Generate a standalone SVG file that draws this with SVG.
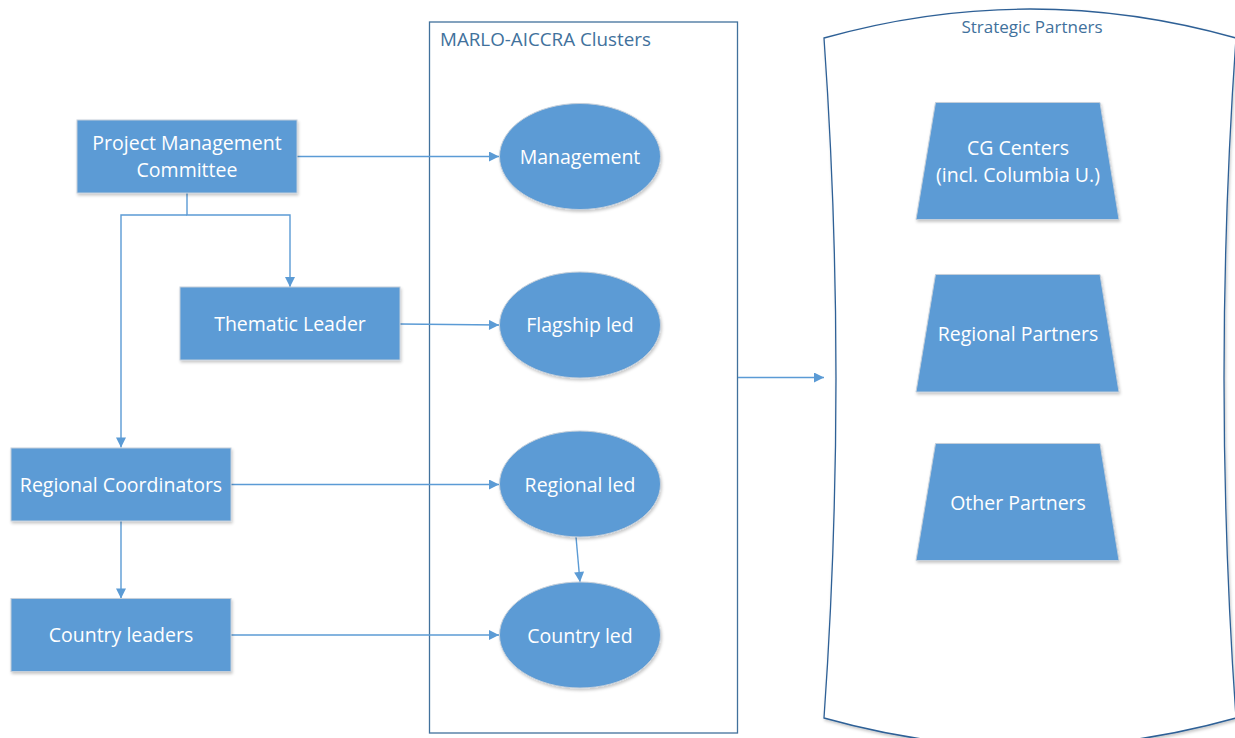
<svg xmlns="http://www.w3.org/2000/svg" width="1235" height="738" viewBox="0 0 1235 738">
<defs>
<style>
.node{fill:#5B9BD5;stroke:#C3CEDA;stroke-width:1;filter:url(#sh)}
.lbl{font-family:"Open Sans","Liberation Sans",sans-serif;font-size:19.5px;fill:#FFFFFF;text-anchor:middle}
.title{font-family:"Open Sans","Liberation Sans",sans-serif;font-size:17px;fill:#41719C;text-anchor:middle}
.con{fill:none;stroke:#5B9BD5;stroke-width:1.4}
</style>
<marker id="ah" viewBox="0 0 10 10" refX="10" refY="5" markerWidth="11" markerHeight="10" markerUnits="userSpaceOnUse" orient="auto">
<path d="M0,0 L10,5 L0,10 Z" fill="#5B9BD5"/>
</marker>
<filter id="sh" x="-10%" y="-10%" width="130%" height="130%">
<feDropShadow dx="1" dy="2" stdDeviation="1.6" flood-color="#000" flood-opacity="0.22"/>
</filter>
</defs>
<rect width="1235" height="738" fill="#FFFFFF"/>

<g id="strategic-partners">
<path d="M824,38 Q1030,-20 1236,38 Q1212,378 1236,718 Q1030,776 824,718 Q848,378 824,38 Z" fill="#FFFFFF" stroke="#2E6096" stroke-width="1.3" filter="url(#sh)"/>
<text class="title" x="1032" y="33">Strategic Partners</text>
</g>

<g id="clusters">
<rect x="429.5" y="22" width="308" height="711" fill="#FFFFFF" stroke="#41719C" stroke-width="1.3"/>
<text class="title" x="440" y="46" style="text-anchor:start;font-size:18.8px">MARLO-AICCRA Clusters</text>
</g>

<g id="connectors">
<line class="con" x1="297" y1="156.5" x2="499" y2="156.5" marker-end="url(#ah)"/>
<line class="con" x1="400" y1="324" x2="499" y2="325" marker-end="url(#ah)"/>
<line class="con" x1="231" y1="484.5" x2="499" y2="484.5" marker-end="url(#ah)"/>
<line class="con" x1="231" y1="635" x2="499" y2="635" marker-end="url(#ah)"/>
<polyline class="con" points="187,193 187,215 290,215 290,287" marker-end="url(#ah)"/>
<polyline class="con" points="187,215 121,215 121,447.5" marker-end="url(#ah)"/>
<line class="con" x1="121" y1="521" x2="121" y2="598.5" marker-end="url(#ah)"/>
<line class="con" x1="576" y1="537" x2="580" y2="582" marker-end="url(#ah)"/>
<line class="con" x1="738" y1="377.5" x2="824" y2="377.5" marker-end="url(#ah)"/>
</g>

<g id="pmc">
<rect class="node" x="77" y="120" width="220" height="73"/>
<text class="lbl" x="187" y="150">Project Management</text>
<text class="lbl" x="187" y="176.5">Committee</text>
</g>
<g id="thematic-leader">
<rect class="node" x="180" y="287" width="220" height="73"/>
<text class="lbl" x="290" y="331">Thematic Leader</text>
</g>
<g id="regional-coordinators">
<rect class="node" x="11" y="448" width="220" height="73"/>
<text class="lbl" x="121" y="491.5">Regional Coordinators</text>
</g>
<g id="country-leaders">
<rect class="node" x="11" y="598.5" width="220" height="73"/>
<text class="lbl" x="121" y="642">Country leaders</text>
</g>

<g id="management">
<ellipse class="node" cx="580" cy="156.5" rx="80.5" ry="53"/>
<text class="lbl" x="580" y="164">Management</text>
</g>
<g id="flagship-led">
<ellipse class="node" cx="580" cy="325" rx="80.5" ry="53"/>
<text class="lbl" x="580" y="332">Flagship led</text>
</g>
<g id="regional-led">
<ellipse class="node" cx="580" cy="484" rx="80.5" ry="53"/>
<text class="lbl" x="580" y="491.5">Regional led</text>
</g>
<g id="country-led">
<ellipse class="node" cx="580" cy="635" rx="80.5" ry="53"/>
<text class="lbl" x="580" y="642.5">Country led</text>
</g>

<g id="cg-centers">
<polygon class="node" points="935.5,102.5 1100,102.5 1119,219.5 916,219.5"/>
<text class="lbl" x="1018" y="155">CG Centers</text>
<text class="lbl" x="1018" y="181.5">(incl. Columbia U.)</text>
</g>
<g id="regional-partners">
<polygon class="node" points="935.5,274.5 1100,274.5 1119,392 916,392"/>
<text class="lbl" x="1018" y="340.5">Regional Partners</text>
</g>
<g id="other-partners">
<polygon class="node" points="935.5,443.5 1100,443.5 1119,560.5 916,560.5"/>
<text class="lbl" x="1018" y="510">Other Partners</text>
</g>
</svg>
